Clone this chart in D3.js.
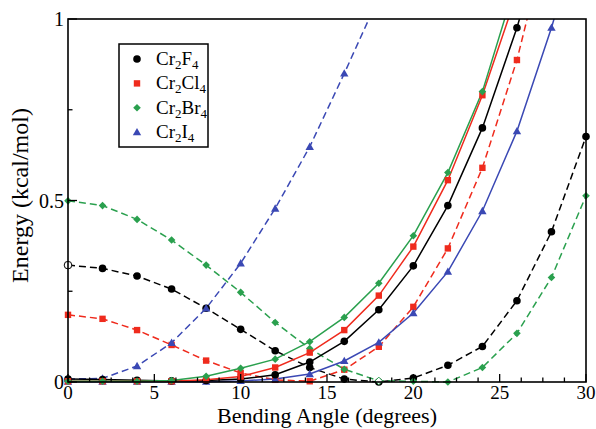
<!DOCTYPE html>
<html><head><meta charset="utf-8">
<script src="https://cdn.jsdelivr.net/npm/d3@7"></script>
<style>body{margin:0;background:#fff}</style>
</head><body><svg id="c" width="596" height="429"></svg>
<script>
const angles = [0,2,4,6,8,10,12,14,16,18,20,22,24,26,28,30];
// solid curves
const F_solid  = [0.008,0.007,0.005,0.003,0.004,0.008,0.02,0.055,0.112,0.199,0.32,0.486,0.70,0.976,1.3,null];
const Cl_solid = [0.002,0.002,0.002,0.002,0.006,0.015,0.04,0.081,0.143,0.238,0.373,0.556,0.79,1.07,null,null];
const Br_solid = [0.002,0.002,0.002,0.004,0.016,0.038,0.063,0.111,0.178,0.272,0.403,0.577,0.80,1.11,null,null];
const I_solid  = [0.001,0.001,0.001,0.001,0.001,0.003,0.008,0.022,0.058,0.109,0.19,0.304,0.471,0.691,0.976,1.3];
// dashed curves
const F_dash   = [0.322,0.313,0.292,0.256,0.203,0.145,0.086,0.04,0.008,0.0,0.011,0.046,0.098,0.224,0.414,0.676];
const Cl_dash  = [0.185,0.174,0.143,0.102,0.059,0.025,0.006,0.002,0.034,0.097,0.207,0.368,0.59,0.887,1.27,null];
const Br_dash  = [0.499,0.486,0.448,0.391,0.322,0.247,0.164,0.092,0.035,0.003,0.002,0.0,0.04,0.134,0.288,0.513];
const I_dash   = [0.008,0.01,0.044,0.108,0.203,0.327,0.478,0.648,0.85,1.06,null,null,null,null,null,null];
const xTicks = [0,5,10,15,20,25,30];
const yTicks = [0,0.5,1];
const yTickLabels = ["0","0.5","1"];
const legendNames = [["Cr","2","F","4"],["Cr","2","Cl","4"],["Cr","2","Br","4"],["Cr","2","I","4"]];

const colors = {F:"#000000", Cl:"#ef2b1d", Br:"#2aa04e", I:"#3a48b4"};
const series = [
  {v:F_dash, c:colors.F, s:"circle", dash:true, open:[0]},
  {v:Cl_dash, c:colors.Cl, s:"square", dash:true, open:[]},
  {v:Br_dash, c:colors.Br, s:"diamond", dash:true, open:[9]},
  {v:I_dash, c:colors.I, s:"triangle", dash:true, open:[]},
  {v:I_solid, c:colors.I, s:"triangle", dash:false, open:[]},
  {v:F_solid, c:colors.F, s:"circle", dash:false, open:[]},
  {v:Cl_solid, c:colors.Cl, s:"square", dash:false, open:[]},
  {v:Br_solid, c:colors.Br, s:"diamond", dash:false, open:[]},
];

const L=68, R=586, T=19, B=382;
const x = d3.scaleLinear().domain([0,30]).range([L,R]);
const y = d3.scaleLinear().domain([0,1]).range([B,T]);
const svg = d3.select("#c");
const font = "'Liberation Serif','Times New Roman',serif";

svg.append("defs").append("clipPath").attr("id","clip")
  .append("rect").attr("x",L-6).attr("y",T).attr("width",R-L+12).attr("height",B-T+6);

function sym(g, type, cx, cy, col, open){
  let p;
  if(type==="circle"){ p=g.append("circle").attr("cx",cx).attr("cy",cy).attr("r",3.8); }
  else if(type==="square"){ p=g.append("rect").attr("x",cx-3.2).attr("y",cy-3.2).attr("width",6.4).attr("height",6.4); }
  else if(type==="diamond"){ const h=3.8; p=g.append("path").attr("d",`M${cx},${cy-h}L${cx+h},${cy}L${cx},${cy+h}L${cx-h},${cy}Z`); }
  else { const h=4.2; p=g.append("path").attr("d",`M${cx},${cy-h}L${cx+h},${cy+h*0.75}L${cx-h},${cy+h*0.75}Z`); }
  if(open) p.attr("fill","#fff").attr("stroke",col).attr("stroke-width",1);
  else p.attr("fill",col);
}

const plot = svg.append("g").attr("clip-path","url(#clip)");
const line = d3.line().defined(d=>d[1]!=null).x(d=>x(d[0])).y(d=>y(d[1]));
series.forEach(s=>{
  const pts = angles.map((a,i)=>[a,s.v[i]]);
  plot.append("path").attr("d",line(pts)).attr("fill","none").attr("stroke",s.c)
    .attr("stroke-width",1.5).attr("stroke-dasharray",s.dash?"7,4":null);
});
series.forEach(s=>{
  angles.forEach((a,i)=>{
    const v=s.v[i]; if(v==null||v>1) return;
    sym(plot,s.s,x(a),y(v),s.c,s.open.includes(i));
  });
});

// frame
svg.append("rect").attr("x",L).attr("y",T).attr("width",R-L).attr("height",B-T)
  .attr("fill","none").attr("stroke","#000").attr("stroke-width",1.6);

// x ticks
const ax = svg.append("g");
for(let v=0; v<=30.001; v+=1.25){
  const major = Math.abs(v/5-Math.round(v/5))<1e-6;
  ax.append("line").attr("x1",x(v)).attr("x2",x(v)).attr("y1",B).attr("y2",B-(major?8:4.5))
    .attr("stroke","#000").attr("stroke-width",1.3);
}
ax.selectAll("text.xt").data(xTicks).enter().append("text")
  .attr("x",d=>x(d)).attr("y",399).attr("text-anchor","middle")
  .attr("font-family",font).attr("font-size",19).text(d=>d);
// y ticks
for(let v=0; v<=1.0001; v+=0.25){
  const major = Math.abs(v*2-Math.round(v*2))<1e-6;
  ax.append("line").attr("x1",L).attr("x2",L+(major?9:4.5)).attr("y1",y(v)).attr("y2",y(v))
    .attr("stroke","#000").attr("stroke-width",1.3);
}
ax.selectAll("text.yt").data(yTicks).enter().append("text")
  .attr("x",64).attr("y",d=>y(d)+7).attr("text-anchor","end")
  .attr("font-family",font).attr("font-size",20).text((d,i)=>yTickLabels[i]);

// axis titles
svg.append("text").attr("x",(L+R)/2).attr("y",423).attr("text-anchor","middle")
  .attr("font-family",font).attr("font-size",22).text("Bending Angle (degrees)");
svg.append("text").attr("transform",`translate(28,${(T+B)/2-5}) rotate(-90)`).attr("text-anchor","middle")
  .attr("font-family",font).attr("font-size",24).text("Energy (kcal/mol)");

// legend
const lg = svg.append("g");
lg.append("rect").attr("x",119).attr("y",44).attr("width",89).attr("height",103)
  .attr("fill","#fff").attr("stroke","#000").attr("stroke-width",1.5);
const legSyms = [["circle",colors.F],["square",colors.Cl],["diamond",colors.Br],["triangle",colors.I]];
legendNames.forEach((n,i)=>{
  const cy = 59 + i*24.4;
  sym(lg, legSyms[i][0], 137, cy, legSyms[i][1], false);
  const t = lg.append("text").attr("x",156).attr("y",cy+6).attr("font-family",font).attr("font-size",19);
  t.append("tspan").text(n[0]);
  t.append("tspan").attr("font-size",13).attr("dy",4).text(n[1]);
  t.append("tspan").attr("dy",-4).text(n[2]);
  t.append("tspan").attr("font-size",13).attr("dy",4).text(n[3]);
});
</script></body></html>
